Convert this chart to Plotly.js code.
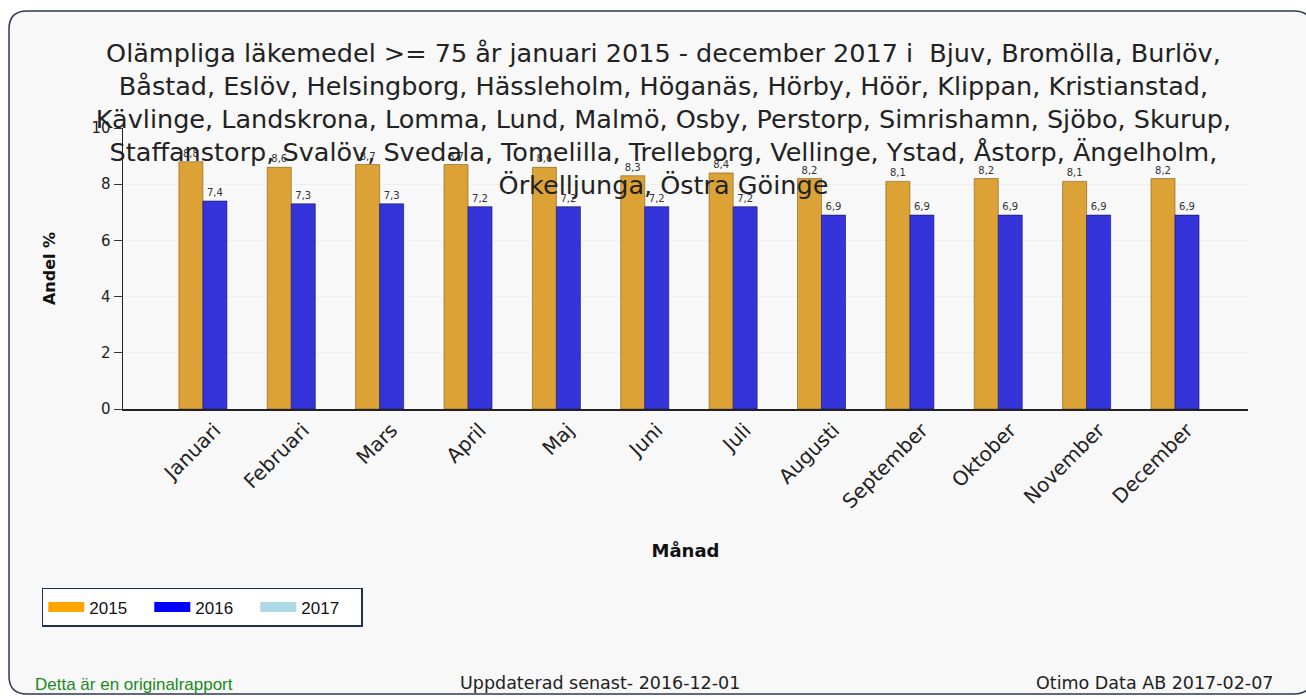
<!DOCTYPE html>
<html><head><meta charset="utf-8">
<script src="https://cdn.plot.ly/plotly-3.0.1.min.js"></script>
<style>body{margin:0;background:#fff}#c{width:1306px;height:699px}</style>
</head><body><div id="c"></div>
<script>
const months = ["Januari","Februari","Mars","April","Maj","Juni","Juli","Augusti","September","Oktober","November","December"];
const years = ["2015","2016","2017"];
const v2015 = [8.8,8.6,8.7,8.7,8.6,8.3,8.4,8.2,8.1,8.2,8.1,8.2];
const v2016 = [7.4,7.3,7.3,7.2,7.2,7.2,7.2,6.9,6.9,6.9,6.9,6.9];
const v2017 = [null,null,null,null,null,null,null,null,null,null,null,null];
const titleLines = [
 "Olämpliga läkemedel >= 75 år januari 2015 - december 2017 i  Bjuv, Bromölla, Burlöv,",
 "Båstad, Eslöv, Helsingborg, Hässleholm, Höganäs, Hörby, Höör, Klippan, Kristianstad,",
 "Kävlinge, Landskrona, Lomma, Lund, Malmö, Osby, Perstorp, Simrishamn, Sjöbo, Skurup,",
 "Staffanstorp, Svalöv, Svedala, Tomelilla, Trelleborg, Vellinge, Ystad, Åstorp, Ängelholm,",
 "Örkelljunga, Östra Göinge"
];
const font = "DejaVu Sans, Verdana, sans-serif";
const lbl = {size:10, color:"#333", family:font};
const series = [v2015, v2016, v2017];
const barColors = ["#DDA236","#3434DA","#ADD8E6"];
const edgeColors = ["#7a5a10","#10105a","#7fa9b8"];
const legendColors = ["#FFA500","#0000FF","#ADD8E6"];
const traces = [];
series.forEach((vals, i) => {
 traces.push({type:"bar", name:years[i], legendgroup:years[i], showlegend:false, x:months, y:vals,
  marker:{color:barColors[i], line:{color:edgeColors[i], width:0.6}},
  texttemplate:"%{y:.1f}", textposition:"outside", textfont:lbl, cliponaxis:false, hoverinfo:"skip"});
});
// legend entries (wide colour swatches like the reference)
series.forEach((vals, i) => {
 traces.push({type:"scatter", mode:"lines", name:years[i], legendgroup:years[i], x:months, y:vals.map(() => null),
  line:{color:legendColors[i], width:12}, hoverinfo:"skip"});
});
const layout = {
 width:1306, height:699,
 separators:",.",
 paper_bgcolor:"#ffffff", plot_bgcolor:"#ffffff",
 margin:{l:123, r:58, t:128, b:290},
 barmode:"group", bargap:0.185, bargroupgap:0,
 font:{family:font, color:"#222"},
 title:{text:titleLines.join("<br>"), font:{size:25.5, family:font, color:"#222"}, x:0.508, xanchor:"center", y:0.912, yanchor:"top"},
 xaxis:{range:[-1.04,11.69], showline:true, linecolor:"#222", linewidth:1.5, ticks:"", tickangle:-45,
   tickfont:{size:20, family:font, color:"#222"}, title:{text:"<b>Månad</b>", font:{size:18, family:font, color:"#111"}, standoff:32}},
 yaxis:{range:[0,10], dtick:2, showline:true, linecolor:"#222", linewidth:1.5, ticks:"outside", ticklen:8, tickcolor:"#333",
   showgrid:true, gridcolor:"#eeeeee", zeroline:false, tickfont:{size:15, family:font, color:"#222"},
   title:{text:"<b>Andel %</b>", font:{size:16, family:font, color:"#111"}, standoff:32}},
 showlegend:true,
 legend:{orientation:"h", xref:"container", yref:"container", x:0.032, y:0.159, xanchor:"left", yanchor:"top",
   bgcolor:"#ffffff", bordercolor:"#1f3050", borderwidth:1.5, font:{size:17, family:"Liberation Sans, Arial, sans-serif", color:"#111"},
   traceorder:"normal", itemwidth:36, entrywidth:55, entrywidthmode:"pixels"},
 shapes:[
  {type:"path", xref:"paper", yref:"paper", layer:"below",
   path:"", line:{color:"#2b3a55", width:1.5}, fillcolor:"#f8f8f8"}
 ],
 annotations:[
  {text:"Detta är en originalrapport", xref:"paper", yref:"paper", x:0, y:0, xanchor:"left", yanchor:"middle", showarrow:false,
   font:{size:17, family:"Liberation Sans, Arial, sans-serif", color:"#1a8a1a"}},
  {text:"Uppdaterad senast- 2016-12-01", xref:"paper", yref:"paper", x:0, y:0, xanchor:"center", yanchor:"middle", showarrow:false,
   font:{size:17.5, family:font, color:"#222"}},
  {text:"Otimo Data AB 2017-02-07", xref:"paper", yref:"paper", x:0, y:0, xanchor:"right", yanchor:"middle", showarrow:false,
   font:{size:17.5, family:font, color:"#222"}}
 ]
};
// Rounded panel in pixel -> paper coordinates
(function(){
 const L=123,T=128,W=1125,H=281;
 const px=x=>(x-L)/W, py=y=>1-(y-T)/H;
 const x0=9,y0=11,x1=1312,y1=694,r=18;
 const p=[
  `M ${px(x0+r)},${py(y0)}`, `L ${px(x1-r)},${py(y0)}`, `Q ${px(x1)},${py(y0)} ${px(x1)},${py(y0+r)}`,
  `L ${px(x1)},${py(y1-r)}`, `Q ${px(x1)},${py(y1)} ${px(x1-r)},${py(y1)}`,
  `L ${px(x0+r)},${py(y1)}`, `Q ${px(x0)},${py(y1)} ${px(x0)},${py(y1-r)}`,
  `L ${px(x0)},${py(y0+r)}`, `Q ${px(x0)},${py(y0)} ${px(x0+r)},${py(y0)}`, "Z"];
 layout.shapes[0].path=p.join(" ");
 const ann=layout.annotations;
 ann[0].x=px(33); ann[0].y=py(684);
 ann[1].x=px(600); ann[1].y=py(683);
 ann[2].x=px(1275); ann[2].y=py(683);
})();
Plotly.newPlot("c", traces, layout, {displayModeBar:false, staticPlot:true});
</script>
</body></html>
